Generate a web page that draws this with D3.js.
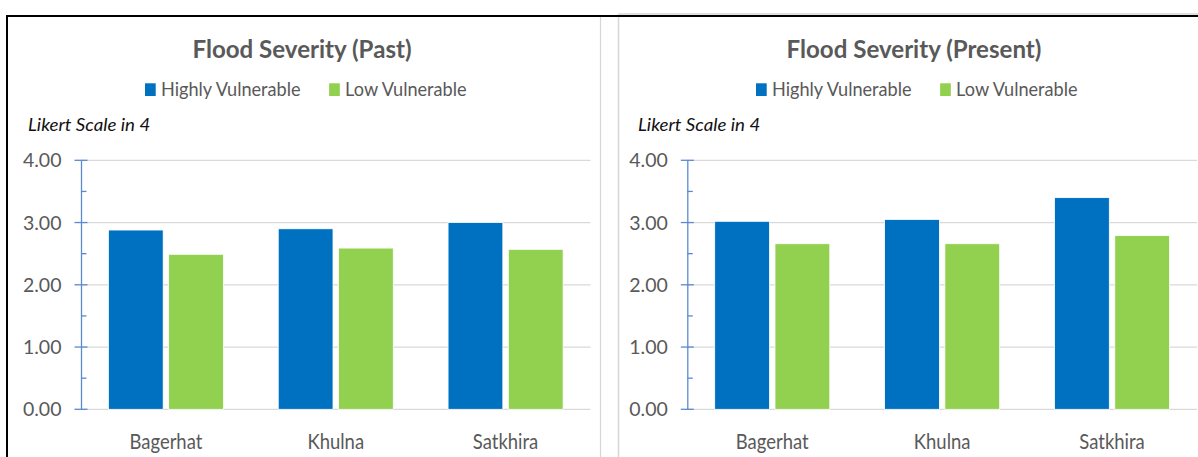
<!DOCTYPE html>
<html>
<head>
<meta charset="utf-8">
<script src="https://cdn.jsdelivr.net/npm/d3@7/dist/d3.min.js"></script>
<style>
  html, body { margin: 0; padding: 0; background: #fff; }
  svg { display: block; }
  text { font-family: Lato, "Open Sans", "Liberation Sans", sans-serif; }
</style>
</head>
<body>
<svg id="chart" width="1198" height="457"></svg>
<script>
// Districts and series
const districts = ["Bagerhat", "Khulna", "Satkhira"];
const seriesNames = ["Highly Vulnerable", "Low Vulnerable"];
const seriesColors = ["#0070C0", "#92D050"];

// Mean flood-severity scores (Likert, out of 4)
const pastHighly = [2.88, 2.90, 3.00];
const pastLow = [2.49, 2.59, 2.57];
const presentHighly = [3.02, 3.05, 3.40];
const presentLow = [2.66, 2.66, 2.79];

// Axis ticks
const yTicks = [0, 1, 2, 3, 4];
const yMinorTicks = [0.5, 1.5, 2.5, 3.5];
const yAxisTitle = "Likert Scale in 4";
const chartTitles = ["Flood Severity (Past)", "Flood Severity (Present)"];

const svg = d3.select("#chart");
const textGrey = "#595959";

// Places a text element at (x, y), optionally condensed horizontally
function label(parent, x, y, str, opts) {
  const sx = opts.squeeze || 1;
  const t = parent.append("text")
    .attr("transform", `translate(${x},${y}) scale(${sx},1)`)
    .attr("font-size", opts.size).attr("fill", opts.fill || textGrey)
    .attr("text-anchor", opts.anchor || "start")
    .text(str);
  if (opts.weight) t.attr("font-weight", opts.weight);
  if (opts.italic) t.attr("font-style", "italic");
  return t;
}

// Frames round the two chart areas
svg.append("line").attr("x1", 618.5).attr("x2", 1198).attr("y1", 14).attr("y2", 14)
  .attr("stroke", "#d6d6d6").attr("stroke-width", 1.5);
svg.append("line").attr("x1", 618.5).attr("x2", 618.5).attr("y1", 14).attr("y2", 457)
  .attr("stroke", "#d6d6d6").attr("stroke-width", 1.5);
svg.append("line").attr("x1", 600.5).attr("x2", 600.5).attr("y1", 17).attr("y2", 457)
  .attr("stroke", "#d6d6d6").attr("stroke-width", 1.2);
svg.append("line").attr("x1", 6).attr("x2", 1198).attr("y1", 16).attr("y2", 16)
  .attr("stroke", "#000").attr("stroke-width", 2);
svg.append("line").attr("x1", 7).attr("x2", 7).attr("y1", 15).attr("y2", 457)
  .attr("stroke", "#000").attr("stroke-width", 2);

const panels = [
  { title: chartTitles[0], values: [pastHighly, pastLow], axisX: 81, plotRight: 590.5, center: 302, legendStart: 145, likertX: 28 },
  { title: chartTitles[1], values: [presentHighly, presentLow], axisX: 687.3, plotRight: 1197, center: 914, legendStart: 756, likertX: 638 }
];

const y = d3.scaleLinear().domain([0, 4]).range([409.3, 160.3]);

panels.forEach(p => {
  const g = svg.append("g");

  // Title
  label(g, p.center, 57.7, p.title, { size: 25.5, weight: "bold", anchor: "middle", squeeze: 0.945 });

  // Legend
  let lx = p.legendStart;
  seriesNames.forEach((name, i) => {
    g.append("rect").attr("x", lx).attr("y", 83.3).attr("width", 10.7).attr("height", 12.7)
      .attr("fill", seriesColors[i]);
    const t = label(g, lx + 16, 95.5, name, { size: 18.5, squeeze: 0.98 });
    lx += 16 + t.node().getComputedTextLength() * 0.98 + 28.6;
  });

  // Value axis title
  label(g, p.likertX, 131, yAxisTitle, { size: 18, italic: true, fill: "#111", squeeze: 1.04 });

  // Horizontal gridlines
  g.selectAll(".grid").data(yTicks).join("line")
    .attr("x1", p.axisX).attr("x2", p.plotRight)
    .attr("y1", d => y(d)).attr("y2", d => y(d))
    .attr("stroke", "#d9d9d9").attr("stroke-width", 1.3);

  // Category and series scales (gap width 100%, overlap -10%)
  const pad = 1 / 3.1;
  const x0 = d3.scaleBand().domain(districts).range([p.axisX, p.plotRight])
    .paddingInner(pad).paddingOuter(pad / 2);
  const x1 = d3.scaleBand().domain(seriesNames).range([0, x0.bandwidth()])
    .paddingInner(0.1 / 1.1);

  // Bars
  districts.forEach((d, di) => {
    seriesNames.forEach((s, si) => {
      const v = p.values[si][di];
      g.append("rect")
        .attr("x", x0(d) + x1(s)).attr("width", x1.bandwidth())
        .attr("y", y(v)).attr("height", y(0) - y(v))
        .attr("fill", seriesColors[si])
        .attr("stroke", "#fff").attr("stroke-width", 0.8);
    });
  });

  // Value axis: line from d3.axisLeft, with separate major/minor tick marks
  const axis = d3.axisLeft(y).tickValues(yTicks).tickFormat(() => "").tickSize(0);
  const ag = g.append("g").attr("transform", `translate(${p.axisX},0)`).call(axis);
  ag.select(".domain").attr("stroke", "#5a8ad0").attr("stroke-width", 1.3);
  const fmt = d3.format(".2f");
  yTicks.forEach(v => label(g, p.axisX - 19.5, y(v) + 7, fmt(v), { size: 19.5, anchor: "end" }));
  ag.selectAll(".major").data(yTicks).join("line")
    .attr("x1", -6.5).attr("x2", 6.5).attr("y1", d => y(d)).attr("y2", d => y(d))
    .attr("stroke", "#5a8ad0").attr("stroke-width", 1.3);
  ag.selectAll(".minor").data(yMinorTicks).join("line")
    .attr("x1", 0).attr("x2", 5.5).attr("y1", d => y(d)).attr("y2", d => y(d))
    .attr("stroke", "#5a8ad0").attr("stroke-width", 1.3);

  // Category labels
  districts.forEach(d => label(g, x0(d) + x0.bandwidth() / 2, 449.3, d, { size: 22, anchor: "middle", squeeze: 0.84 }));
});
</script>
</body>
</html>
